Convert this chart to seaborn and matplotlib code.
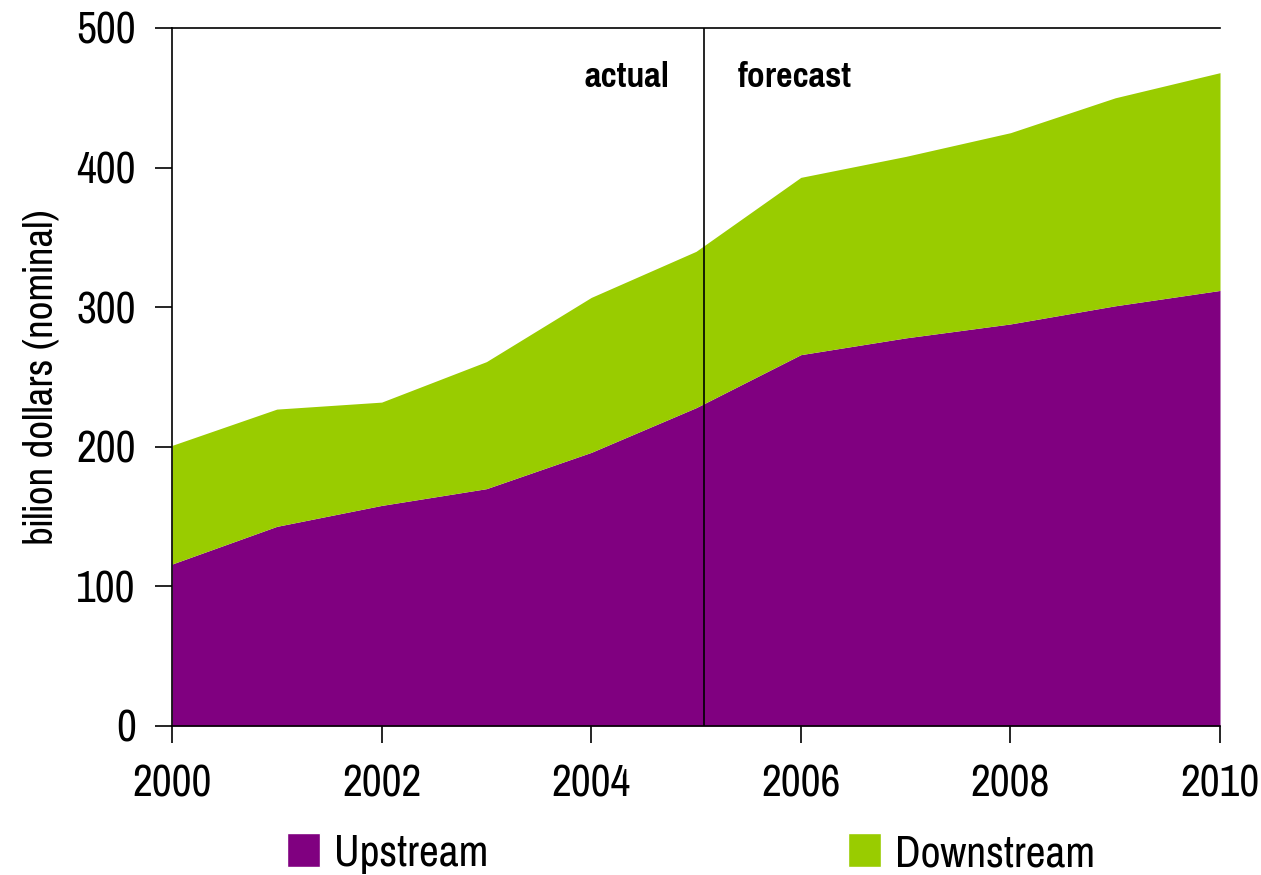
import matplotlib
matplotlib.use('Agg')
import matplotlib.pyplot as plt
import seaborn as sns
import pandas as pd
from matplotlib.patches import Patch

# Datos
years = [2000, 2001, 2002, 2003, 2004, 2005, 2006, 2007, 2008, 2009, 2010]
upstream = [116, 143, 158, 170, 196, 228, 266, 278, 288, 301, 312]
total = [201, 227, 232, 261, 307, 340, 393, 408, 425, 450, 468]
downstream = [t - u for t, u in zip(total, upstream)]
split_year = 2005.08

df = pd.DataFrame({'year': years, 'Upstream': upstream, 'Downstream': downstream})

sns.set_style('white')
# Fuente estrecha tipo Arial Narrow, la primera que haya
plt.rcParams['font.family'] = ['Arial Narrow', 'Liberation Sans Narrow', 'Pragati Narrow',
                               'Archivo Narrow', 'PT Sans Narrow', 'Roboto Condensed',
                               'Liberation Sans', 'DejaVu Sans']

fig = plt.figure(figsize=(12.61, 8.75), dpi=100)
ax = fig.add_axes([0.1364, 0.1703, 0.8311, 0.7977])

colores = ['#800080', '#99CC00']
ax.stackplot(df.year, df.Upstream, df.Downstream, colors=colores, linewidth=0)

ax.axvline(split_year, color='black', linewidth=1.2)
ax.text(split_year - 0.33, 465, 'actual', ha='right', va='center', fontsize=28,
        fontweight='bold', color='black')
ax.text(split_year + 0.32, 465, 'forecast', ha='left', va='center', fontsize=28,
        fontweight='bold', color='black')

ax.set_xlim(2000, 2010)
ax.set_ylim(0, 500)
ax.set_xticks(range(2000, 2011, 2))
ax.set_yticks(range(0, 501, 100))
ax.tick_params(axis='both', direction='out', length=12, width=1.2, labelsize=34, color='black',
               labelcolor='black', left=True, bottom=True)
ax.tick_params(axis='x', pad=16)
ax.tick_params(axis='y', pad=14)
ax.set_ylabel('bilion dollars (nominal)', fontsize=32, labelpad=12, color='black')

for s in ['left', 'bottom', 'top']:
    ax.spines[s].set_color('black')
    ax.spines[s].set_linewidth(1.2)
ax.spines['right'].set_visible(False)

handles = [Patch(facecolor=c, label=l) for c, l in zip(colores, ['Upstream', 'Downstream'])]
fig.legend(handles=handles, loc='lower center', bbox_to_anchor=(0.548, -0.048), ncol=2, frameon=False,
           fontsize=34, labelcolor='black', handlelength=0.7, handleheight=0.7, handletextpad=0.3,
           columnspacing=7.6)

fig.savefig('out.png', dpi=100)
